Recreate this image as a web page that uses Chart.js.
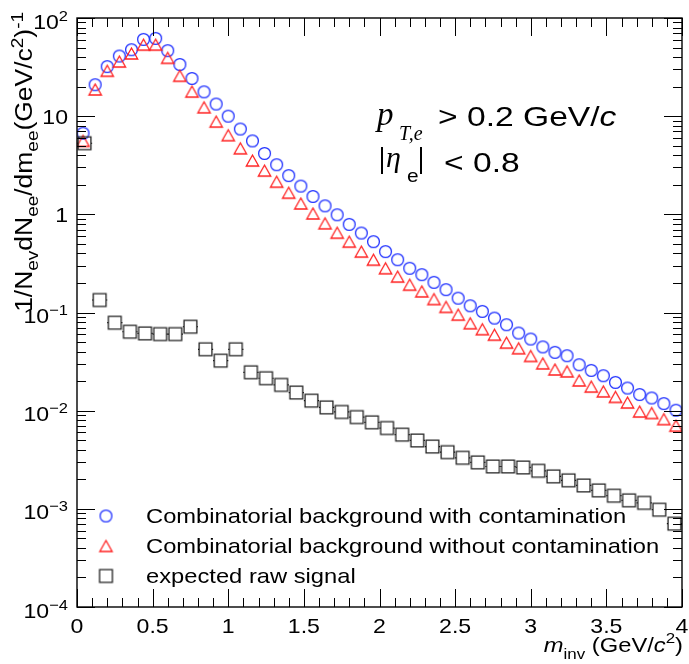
<!DOCTYPE html>
<html>
<head>
<meta charset="utf-8">
<script src="https://cdn.jsdelivr.net/npm/chart.js@4.4.1/dist/chart.umd.min.js"></script>
<style>
html, body { margin: 0; padding: 0; background: #fff; }
canvas { display: block; }
</style>
</head>
<body>
<canvas id="graph" width="689" height="664"></canvas>
<script>
// bin centres (GeV/c^2)
const fineBins = [0.04, 0.12, 0.20, 0.28, 0.36, 0.44, 0.52, 0.60, 0.68, 0.76,
  0.84, 0.92, 1.00, 1.08, 1.16, 1.24, 1.32, 1.40, 1.48, 1.56,
  1.64, 1.72, 1.80, 1.88, 1.96, 2.04, 2.12, 2.20, 2.28, 2.36,
  2.44, 2.52, 2.60, 2.68, 2.76, 2.84, 2.92, 3.00, 3.08, 3.16,
  3.24, 3.32, 3.40, 3.48, 3.56, 3.64, 3.72, 3.80, 3.88, 3.96];
const coarseBins = [0.05, 0.15, 0.25, 0.35, 0.45, 0.55, 0.65, 0.75, 0.85, 0.95,
  1.05, 1.15, 1.25, 1.35, 1.45, 1.55, 1.65, 1.75, 1.85, 1.95,
  2.05, 2.15, 2.25, 2.35, 2.45, 2.55, 2.65, 2.75, 2.85, 2.95,
  3.05, 3.15, 3.25, 3.35, 3.45, 3.55, 3.65, 3.75, 3.85, 3.95];

const withContamination = [6.7, 20.9, 32, 41, 47.5, 60.5, 62, 46.5, 33.6, 24.2,
  17.7, 13.3, 10.0, 7.4, 5.6, 4.17, 3.2, 2.48, 1.94, 1.52,
  1.22, 0.99, 0.79, 0.645, 0.527, 0.417, 0.345, 0.282, 0.243, 0.203,
  0.171, 0.140, 0.117, 0.1026, 0.0877, 0.0751, 0.0618, 0.0537, 0.0446, 0.0393,
  0.0363, 0.0294, 0.0257, 0.0227, 0.0194, 0.0170, 0.0146, 0.01346, 0.0118, 0.0101];
const withoutContamination = [5.6, 18.7, 29, 36, 43.5, 53.5, 53.5, 39.3, 25.8, 17.8,
  12.3, 8.8, 6.4, 4.7, 3.53, 2.79, 2.15, 1.66, 1.29, 1.02,
  0.81, 0.65, 0.527, 0.417, 0.345, 0.282, 0.232, 0.192, 0.164, 0.137,
  0.114, 0.095, 0.0776, 0.0676, 0.0594, 0.0493, 0.0432, 0.0361, 0.0303, 0.0263,
  0.0251, 0.0203, 0.0176, 0.0157, 0.0138, 0.0121, 0.0098, 0.00946, 0.0082, 0.00703];
const rawSignal = [5.3, 0.134, 0.0787, 0.0637, 0.0612, 0.0603, 0.0603, 0.0716, 0.0422, 0.0323,
  0.0422, 0.0246, 0.0214, 0.0183, 0.0153, 0.01265, 0.0108, 0.0097, 0.0086, 0.0076,
  0.00665, 0.0057, 0.00497, 0.00431, 0.00378, 0.00331, 0.00297, 0.0027, 0.0027, 0.00264,
  0.00244, 0.00214, 0.00195, 0.00173, 0.00154, 0.00136, 0.00122, 0.00115, 0.00098, 0.000706];

const seriesLabels = ["Combinatorial background with contamination",
  "Combinatorial background without contamination",
  "expected raw signal"];

const xTickValues = [0, 0.5, 1, 1.5, 2, 2.5, 3, 3.5, 4];
const xTickLabels = ["0", "0.5", "1", "1.5", "2", "2.5", "3", "3.5", "4"];
const yTickValues = [1e-4, 1e-3, 1e-2, 1e-1, 1, 10, 100];
const yTickBase = ["10", "10", "10", "10", "1", "10", "10"];
const yTickExp = ["\u22124", "\u22123", "\u22122", "\u22121", "", "", "2"];

const SANS = '"Liberation Sans", Arial, sans-serif';
const SERIF = '"Liberation Serif", "Times New Roman", serif';

// open ROOT-like markers
function marker(kind, color) {
    const m = document.createElement("canvas");
    m.width = 17; m.height = 17;
    const g = m.getContext("2d");
    g.strokeStyle = color;
    g.lineWidth = 1.3;
    g.beginPath();
    if (kind === "circle") {
        g.arc(8.5, 8.5, 5.9, 0, 2 * Math.PI);
    } else if (kind === "triangle") {
        g.moveTo(2.3, 14); g.lineTo(14.7, 14); g.lineTo(8.5, 3); g.closePath();
    } else {
        g.rect(2.1, 2.1, 12.8, 12.8);
    }
    g.stroke();
    return m;
}
const mkCircle = marker("circle", "#2233ff");
const mkTriangle = marker("triangle", "#ff2020");
const mkSquare = marker("square", "#222222");

function points(xs, ys) {
    return xs.map((x, i) => ({x: x, y: ys[i]}));
}

// draw a run of text pieces: [text, font, dy]
function drawRuns(c, parts, x, y, align, sx) {
    let w = 0;
    parts.forEach(p => { c.font = p[1]; w += c.measureText(p[0]).width * sx; });
    let cx = align === "right" ? x - w : (align === "center" ? x - w / 2 : x);
    parts.forEach(p => {
        c.font = p[1];
        const pw = c.measureText(p[0]).width * sx;
        c.save();
        c.translate(cx, y + (p[2] || 0));
        c.scale(sx, 1);
        c.fillText(p[0], 0, 0);
        c.restore();
        cx += pw;
    });
    return w;
}

// horizontal bin-width bars, hidden under the markers
const binBars = {
    id: "binBars",
    beforeDatasetsDraw(chart) {
        const c = chart.ctx, xs = chart.scales.x, ys = chart.scales.y;
        c.save();
        chart.data.datasets.forEach(ds => {
            c.strokeStyle = ds.barColor;
            c.lineWidth = 1.2;
            ds.data.forEach(p => {
                const px = xs.getPixelForValue(p.x), py = ys.getPixelForValue(p.y);
                const l = xs.getPixelForValue(p.x - ds.halfWidth), r = xs.getPixelForValue(p.x + ds.halfWidth);
                c.beginPath();
                if (px - ds.markerHalf - l > 0.3) { c.moveTo(l, py); c.lineTo(px - ds.markerHalf, py); }
                if (r - px - ds.markerHalf > 0.3) { c.moveTo(px + ds.markerHalf, py); c.lineTo(r, py); }
                c.stroke();
            });
        });
        c.restore();
    }
};

// frame, ticks, labels, titles, legend, text
const rootFrame = {
    id: "rootFrame",
    afterDraw(chart) {
        const c = chart.ctx, xs = chart.scales.x, ys = chart.scales.y, a = chart.chartArea;
        c.save();
        c.strokeStyle = "#000";
        c.fillStyle = "#000";
        c.lineWidth = 1.4;
        c.strokeRect(a.left, a.top, a.right - a.left, a.bottom - a.top);

        c.lineWidth = 1;
        c.beginPath();
        // x ticks
        for (let k = 0; k <= 40; k++) {
            const v = k / 10;
            const px = Math.round(xs.getPixelForValue(v)) + 0.5;
            const len = (k % 5 === 0) ? 18 : 9;
            c.moveTo(px, a.bottom); c.lineTo(px, a.bottom - len);
            c.moveTo(px, a.top); c.lineTo(px, a.top + len);
        }
        // y ticks
        for (let e = -4; e <= 2; e++) {
            for (let m = 1; m <= 9; m++) {
                if (e === 2 && m > 1) break;
                const py = Math.round(ys.getPixelForValue(m * Math.pow(10, e))) + 0.5;
                const len = m === 1 ? 18 : 9;
                c.moveTo(a.left, py); c.lineTo(a.left + len, py);
                c.moveTo(a.right, py); c.lineTo(a.right - len, py);
            }
        }
        c.stroke();

        // tick labels
        const F21 = "21px " + SANS, F15 = "15px " + SANS;
        xTickValues.forEach((v, i) => {
            drawRuns(c, [[xTickLabels[i], F21]], xs.getPixelForValue(v), 633, "center", 1.1);
        });
        yTickValues.forEach((v, i) => {
            const py = ys.getPixelForValue(v);
            if (yTickExp[i] === "") {
                drawRuns(c, [[yTickBase[i], F21]], 68, py + 7.5, "right", 1.1);
            } else {
                drawRuns(c, [[yTickBase[i], F21, 10.5], [yTickExp[i], F15, 2.5]], 68, py, "right", 1.1);
            }
        });

        // x title
        drawRuns(c, [["m", "italic 21px " + SANS], ["inv", F15, 7], [" (GeV/", F21],
            ["c", "italic 21px " + SANS], ["2", F15, -9], [")", F21]], 683, 652, "right", 1.13);

        // y title
        const F23 = "23px " + SANS, F17 = "16.5px " + SANS;
        c.save();
        c.translate(32, 12);
        c.rotate(-Math.PI / 2);
        drawRuns(c, [["1/N", F23], ["ev", F17, 6], ["dN", F23], ["ee", F17, 6], ["/dm", F23],
            ["ee", F17, 6], ["(GeV/c", F23], ["2", F17, -9.5], [")", F23], ["-1", F17, -9.5]], 0, 0, "right", 1.15);
        c.restore();

        // legend
        const rows = [516, 546, 576];
        const marks = [mkCircle, mkTriangle, mkSquare];
        rows.forEach((ry, i) => {
            c.drawImage(marks[i], 106 - 8.5, ry - 8.5);
            drawRuns(c, [[seriesLabels[i], F21]], 146, ry + 7, "left", 1.13);
        });

        // cuts
        const F28 = "28px " + SANS;
        drawRuns(c, [["p", "italic 33px " + SERIF]], 377, 125, "left", 1);
        drawRuns(c, [["T,e", "italic 20px " + SERIF]], 399, 140, "left", 1);
        drawRuns(c, [["> 0.2 GeV/", F28], ["c", "italic 28px " + SANS]], 438, 126, "left", 1.2);
        c.fillRect(381, 147, 2, 27);
        drawRuns(c, [["\u03b7", "italic 30px " + SERIF]], 386, 167, "left", 1);
        drawRuns(c, [["e", "19px " + SANS]], 407, 182, "left", 1.1);
        c.fillRect(420, 147, 2, 27);
        drawRuns(c, [["< 0.8", F28]], 444, 172, "left", 1.2);

        c.restore();
    }
};

new Chart(document.getElementById("graph"), {
    type: "scatter",
    data: {
        datasets: [{
            label: seriesLabels[0],
            data: points(fineBins, withContamination),
            pointStyle: mkCircle,
            pointRadius: 6,
            halfWidth: 0.04, markerHalf: 6, barColor: "#0000cc",
            order: 3
        }, {
            label: seriesLabels[1],
            data: points(fineBins, withoutContamination),
            pointStyle: mkTriangle,
            pointRadius: 6,
            halfWidth: 0.04, markerHalf: 6.2, barColor: "#cc0000",
            order: 2
        }, {
            label: seriesLabels[2],
            data: points(coarseBins, rawSignal),
            pointStyle: mkSquare,
            pointRadius: 6,
            halfWidth: 0.05, markerHalf: 6.4, barColor: "#000000",
            order: 1
        }]
    },
    options: {
        responsive: false,
        animation: false,
        layout: { padding: { left: 77, right: 6, top: 18, bottom: 57 } },
        scales: {
            x: { type: "linear", min: 0, max: 4, display: false },
            y: { type: "logarithmic", min: 1e-4, max: 100, display: false }
        },
        plugins: {
            legend: { display: false },
            tooltip: { enabled: false }
        }
    },
    plugins: [binBars, rootFrame]
});
</script>
</body>
</html>
